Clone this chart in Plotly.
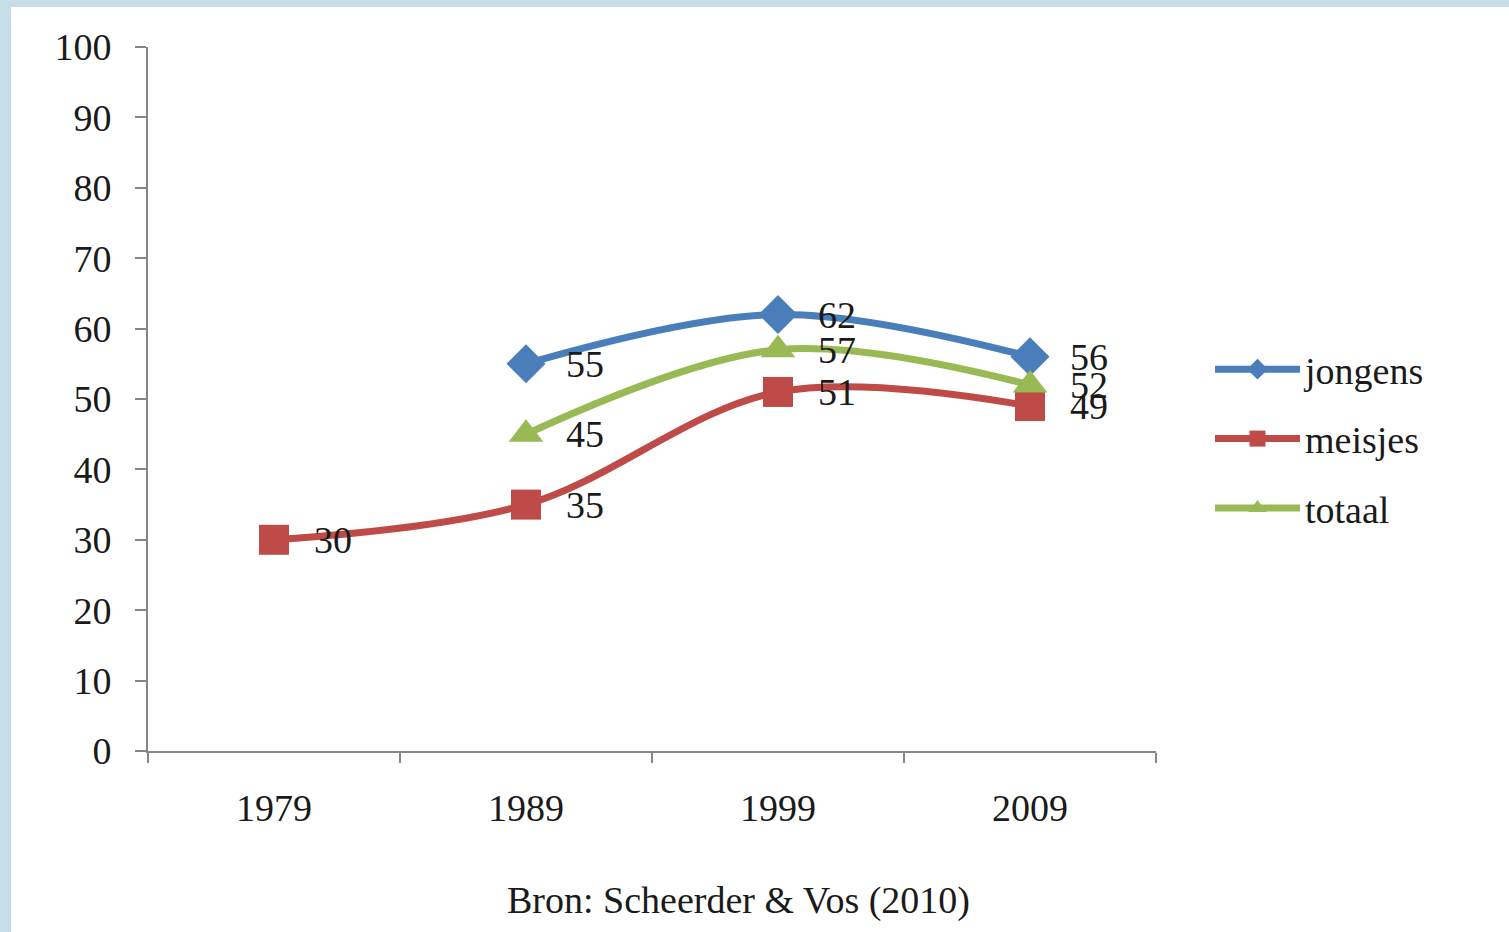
import plotly.graph_objects as go

years = ["1979", "1989", "1999", "2009"]
jongens = [None, 55, 62, 56]
meisjes = [30, 35, 51, 49]
totaal = [None, 45, 57, 52]
y_ticks = [0, 10, 20, 30, 40, 50, 60, 70, 80, 90, 100]
source_text = "Bron: Scheerder & Vos (2010)"

FONT = "Liberation Serif"
TXT = "#1a1a1a"
FS = 38

series = [
    ("jongens", jongens, "#4a7ebb", "diamond", 30),
    ("meisjes", meisjes, "#be4b48", "square", 30),
    ("totaal", totaal, "#98b954", "triangle-up", 30),
]

# plot-area pixel geometry (used only for paper-coordinate decorations)
L, T, W, H = 148, 47, 1008, 704
def px_x(px):
    return (px - L) / W
def px_y(py):
    return (T + H - py) / H

fig = go.Figure()
annotations = []
for name, vals, color, sym, size in series:
    fig.add_trace(go.Scatter(
        x=years, y=vals, name=name, mode="lines+markers",
        line=dict(color=color, width=7, shape="spline", smoothing=1.0),
        marker=dict(symbol=sym, size=size, color=color, line=dict(width=0)),
        connectgaps=False, legendgroup=name,
    ))
    for i, v in enumerate(vals):
        if v is not None:
            annotations.append(dict(
                x=i, y=v, xref="x", yref="y", text=str(v), showarrow=False,
                xanchor="left", yanchor="middle", xshift=38,
                font=dict(family=FONT, size=FS, color=TXT),
            ))

annotations.append(dict(
    x=px_x(738), y=px_y(900), xref="paper", yref="paper", text=source_text,
    showarrow=False, xanchor="center", yanchor="middle",
    font=dict(family=FONT, size=FS, color=TXT),
))

fig.update_layout(
    width=1509, height=932,
    margin=dict(l=L, r=1509 - L - W, t=T, b=932 - T - H),
    paper_bgcolor="#c6dce7", plot_bgcolor="white",
    font=dict(family=FONT, size=FS, color=TXT),
    showlegend=True,
    legend=dict(
        x=px_x(1210), y=px_y(338), xanchor="left", yanchor="top",
        bgcolor="rgba(0,0,0,0)", itemwidth=85, tracegroupgap=17,
        traceorder="grouped",
        font=dict(family=FONT, size=FS, color=TXT),
    ),
    annotations=annotations,
    shapes=[dict(
        type="rect", xref="paper", yref="paper", layer="below",
        x0=px_x(11), x1=px_x(1520), y0=px_y(945), y1=px_y(7),
        fillcolor="white", line=dict(width=0),
    )],
)

fig.update_xaxes(
    type="category", range=[-0.5, 3.5], tickson="boundaries",
    ticks="outside", ticklen=10, tickcolor="#868686", tickwidth=2,
    showline=True, linecolor="#868686", linewidth=2,
    showgrid=False, zeroline=False, ticklabelstandoff=22,
    tickfont=dict(family=FONT, size=FS, color=TXT),
)
fig.update_yaxes(
    range=[0, 100], tickvals=y_ticks,
    ticks="outside", ticklen=11, tickcolor="#868686", tickwidth=2,
    showline=True, linecolor="#868686", linewidth=2,
    showgrid=False, zeroline=False, ticklabelstandoff=16,
    tickfont=dict(family=FONT, size=FS, color=TXT),
)

fig.write_html("out.html", config={"displayModeBar": False},
               post_script="document.body.style.margin='0px';")
